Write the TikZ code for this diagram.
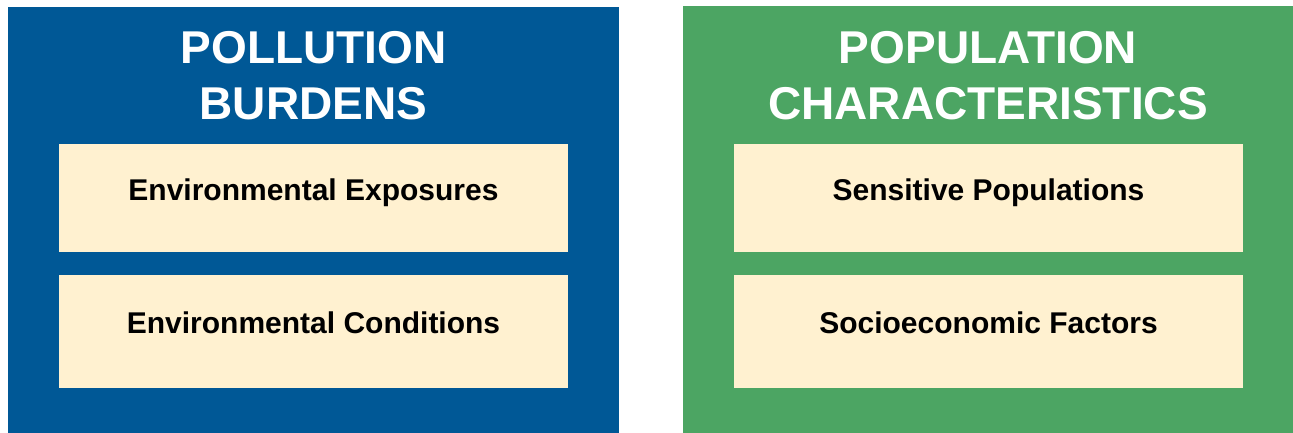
\documentclass[tikz,border=0pt]{standalone}
\usepackage{fontspec}
\setmainfont{Liberation Sans}
\definecolor{pbblue}{RGB}{0,88,150}
\definecolor{pcgreen}{RGB}{76,165,99}
\definecolor{cream}{RGB}{255,241,208}
\tikzset{
	panel/.style={inner sep=0pt, outer sep=0pt},
	title/.style={text=white, align=center, inner sep=0pt,
		font=\fontsize{46}{56}\selectfont\bfseries},
	factor/.style={fill=cream, inner sep=0pt, minimum width=509pt,
		text height=22pt, text depth=18pt,
		font=\fontsize{30}{36}\selectfont\bfseries}
}
\begin{document}
\begin{tikzpicture}[x=1pt,y=-1pt]
			\useasboundingbox (0,0) rectangle (1293,433);
			% two panels
			\node[panel, fill=pbblue, minimum width=611pt, minimum height=426pt] (pollution) at (313.5,220) {};
			\node[panel, fill=pcgreen, minimum width=610pt, minimum height=427pt] (population) at (988,219.5) {};
			\node[title, anchor=base] (pollutiontitle) at (313.5,120) {POLLUTION\\BURDENS};
			\node[title, anchor=base] (populationtitle) at (988,120) {POPULATION\\CHARACTERISTICS};
			% factor boxes
			\node[factor, minimum height=108pt] (exposures) at (313.5,198) {Environmental Exposures};
			\node[factor, minimum height=113pt] (conditions) at (313.5,331.5) {Environmental Conditions};
			\node[factor, minimum height=108pt] (sensitive) at (988.5,198) {Sensitive Populations};
			\node[factor, minimum height=113pt] (socioeconomic) at (988.5,331.5) {Socioeconomic Factors};
		\end{tikzpicture}
\end{document}
